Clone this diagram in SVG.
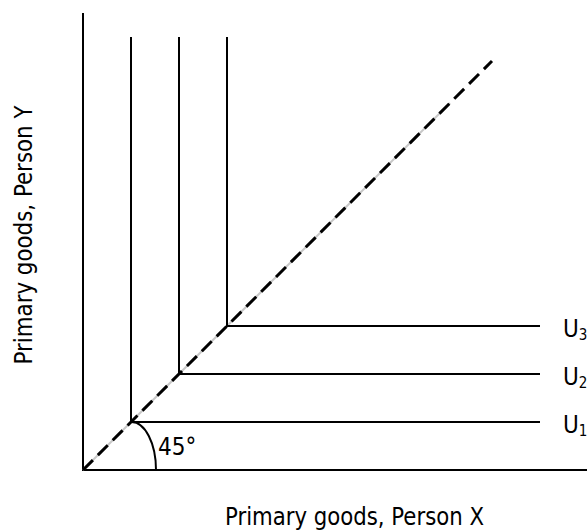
<svg xmlns="http://www.w3.org/2000/svg" width="587" height="530" viewBox="0 0 587 530">
<style>
.ln{stroke:#000;stroke-width:2;fill:none}
.t{font-family:"DejaVu Sans Condensed","DejaVu Sans",Verdana,sans-serif;font-size:24px;fill:#000}
.s{font-size:15px}
</style>
<rect width="587" height="530" fill="#fff"/>
<g id="axes">
<line class="ln" x1="83" y1="13" x2="83" y2="470"/>
<line class="ln" x1="82" y1="470" x2="587" y2="470"/>
</g>
<g id="diagonal">
<line x1="83" y1="470" x2="450" y2="103" stroke="#c8c8c8" stroke-width="2"/>
<line x1="83" y1="470" x2="492" y2="61" stroke="#000" stroke-width="3" stroke-dasharray="14 7"/>
</g>
<g id="U1">
<polyline class="ln" points="131,37 131,422 540,422"/>
<text class="t" x="563" y="433">U<tspan class="s" dy="3">1</tspan></text>
</g>
<g id="U2">
<polyline class="ln" points="179,37 179,374 540,374"/>
<text class="t" x="563" y="385">U<tspan class="s" dy="3">2</tspan></text>
</g>
<g id="U3">
<polyline class="ln" points="227,37 227,326 540,326"/>
<text class="t" x="563" y="337">U<tspan class="s" dy="3">3</tspan></text>
</g>
<g id="angle">
<path class="ln" d="M131.5,422 A24.5,48 0 0 1 156,470"/>
<text class="t" x="158" y="455">45°</text>
</g>
<g id="labels">
<text class="t" x="225" y="525" textLength="259" lengthAdjust="spacingAndGlyphs">Primary goods, Person X</text>
<text class="t" transform="translate(32,364.5) rotate(-90)" textLength="259" lengthAdjust="spacingAndGlyphs">Primary goods, Person Y</text>
</g>
</svg>
